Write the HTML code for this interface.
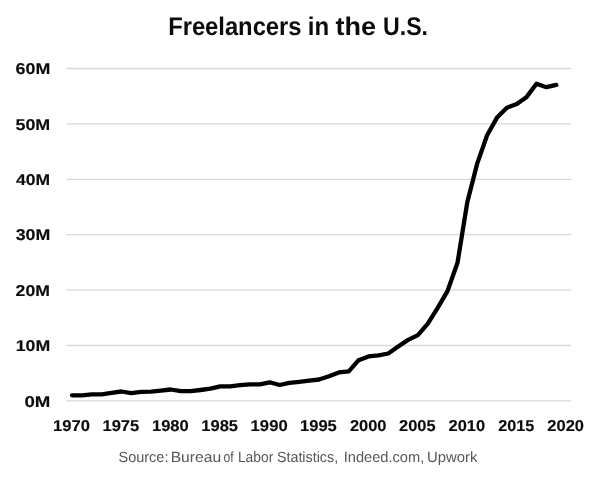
<!DOCTYPE html>
<html><head><meta charset="utf-8"><title>Freelancers in the U.S.</title>
<style>
html,body{margin:0;padding:0;background:#fff;}
body{width:600px;height:481px;overflow:hidden;font-family:"Liberation Sans",sans-serif;}
svg{display:block;will-change:transform;}
svg text{font-family:"Liberation Sans",sans-serif;text-rendering:geometricPrecision;}
.grid line{stroke:#d9d9d9;stroke-width:1.3;}
.lab{font-weight:bold;font-size:15.7px;fill:#0c0c0c;stroke:#0c0c0c;stroke-width:0.15px;stroke-linejoin:round;}
.title{font-weight:bold;font-size:25.5px;fill:#0c0c0c;}
.src{font-size:14.8px;fill:#575757;}
</style></head>
<body>
<svg width="600" height="481" viewBox="0 0 600 481">
<rect width="600" height="481" fill="#fff"/>
<g class="grid">
<line x1="66.3" x2="571.3" y1="68.50" y2="68.50"/>
<line x1="66.3" x2="571.3" y1="123.90" y2="123.90"/>
<line x1="66.3" x2="571.3" y1="179.30" y2="179.30"/>
<line x1="66.3" x2="571.3" y1="234.70" y2="234.70"/>
<line x1="66.3" x2="571.3" y1="290.10" y2="290.10"/>
<line x1="66.3" x2="571.3" y1="345.50" y2="345.50"/>
<line x1="66.3" x2="571.3" y1="400.90" y2="400.90"/>
</g>
<text class="title" x="168.14" y="35.30" textLength="133.4" lengthAdjust="spacingAndGlyphs">Freelancers</text>
<text class="title" x="307.85" y="35.30" textLength="21.32" lengthAdjust="spacingAndGlyphs">in</text>
<text class="title" x="335.41" y="35.30" textLength="40.48" lengthAdjust="spacingAndGlyphs">the</text>
<text class="title" x="383.0" y="35.30" textLength="45.02" lengthAdjust="spacingAndGlyphs">U.S.</text>
<text class="src" x="118.47" y="462.00" textLength="49.94" lengthAdjust="spacingAndGlyphs">Source:</text>
<text class="src" x="170.65" y="462.00" textLength="50.51" lengthAdjust="spacingAndGlyphs">Bureau</text>
<text class="src" x="223.5" y="462.00" textLength="10.16" lengthAdjust="spacingAndGlyphs">of</text>
<text class="src" x="237.9" y="462.00" textLength="35.43" lengthAdjust="spacingAndGlyphs">Labor</text>
<text class="src" x="276.89" y="462.00" textLength="61.32" lengthAdjust="spacingAndGlyphs">Statistics,</text>
<text class="src" x="343.74" y="462.00" textLength="80.5" lengthAdjust="spacingAndGlyphs">Indeed.com,</text>
<text class="src" x="427.06" y="462.00" textLength="50.4" lengthAdjust="spacingAndGlyphs">Upwork</text>
<text class="lab" x="15.54" y="74.15" textLength="34.74" lengthAdjust="spacingAndGlyphs">60M</text>
<text class="lab" x="15.48" y="129.55" textLength="34.83" lengthAdjust="spacingAndGlyphs">50M</text>
<text class="lab" x="16.05" y="184.95" textLength="34.11" lengthAdjust="spacingAndGlyphs">40M</text>
<text class="lab" x="15.65" y="240.35" textLength="34.58" lengthAdjust="spacingAndGlyphs">30M</text>
<text class="lab" x="15.64" y="295.75" textLength="34.36" lengthAdjust="spacingAndGlyphs">20M</text>
<text class="lab" x="15.69" y="351.15" textLength="34.51" lengthAdjust="spacingAndGlyphs">10M</text>
<text class="lab" x="24.41" y="406.55" textLength="25.92" lengthAdjust="spacingAndGlyphs">0M</text>
<text class="lab" x="52.94" y="430.60" textLength="36.93" lengthAdjust="spacingAndGlyphs">1970</text>
<text class="lab" x="102.47" y="430.60" textLength="36.8" lengthAdjust="spacingAndGlyphs">1975</text>
<text class="lab" x="151.94" y="430.60" textLength="36.84" lengthAdjust="spacingAndGlyphs">1980</text>
<text class="lab" x="201.27" y="430.60" textLength="36.77" lengthAdjust="spacingAndGlyphs">1985</text>
<text class="lab" x="250.64" y="430.60" textLength="37.01" lengthAdjust="spacingAndGlyphs">1990</text>
<text class="lab" x="299.96" y="430.60" textLength="36.89" lengthAdjust="spacingAndGlyphs">1995</text>
<text class="lab" x="349.9" y="430.60" textLength="36.59" lengthAdjust="spacingAndGlyphs">2000</text>
<text class="lab" x="399.1" y="430.60" textLength="36.51" lengthAdjust="spacingAndGlyphs">2005</text>
<text class="lab" x="448.53" y="430.60" textLength="36.64" lengthAdjust="spacingAndGlyphs">2010</text>
<text class="lab" x="498.19" y="430.60" textLength="36.02" lengthAdjust="spacingAndGlyphs">2015</text>
<text class="lab" x="547.33" y="430.60" textLength="36.69" lengthAdjust="spacingAndGlyphs">2020</text>
<polyline points="72.0,395.3 81.9,395.3 91.8,394.3 101.7,394.3 111.5,392.9 121.4,391.5 131.3,393.1 141.2,391.9 151.1,391.7 161.0,390.7 170.8,389.5 180.7,391.1 190.6,391.1 200.5,390.0 210.4,388.7 220.3,386.3 230.1,386.3 240.0,385.2 249.9,384.4 259.8,384.4 269.7,382.3 279.6,385.0 289.4,382.8 299.3,381.8 309.2,380.7 319.1,379.5 329.0,376.2 338.9,372.4 348.8,371.4 358.6,360.2 368.5,356.4 378.4,355.4 388.3,353.5 398.2,346.6 408.1,339.9 417.9,335.1 427.8,323.6 437.7,307.8 447.6,290.8 457.5,262.8 467.4,201.7 477.2,163.6 487.1,135.3 497.0,117.6 506.9,107.7 516.8,103.9 526.7,96.9 536.5,83.8 546.4,87.2 556.3,84.9" fill="none" stroke="#000" stroke-width="4.3" stroke-linecap="round" stroke-linejoin="round"/>
</svg>
</body></html>
